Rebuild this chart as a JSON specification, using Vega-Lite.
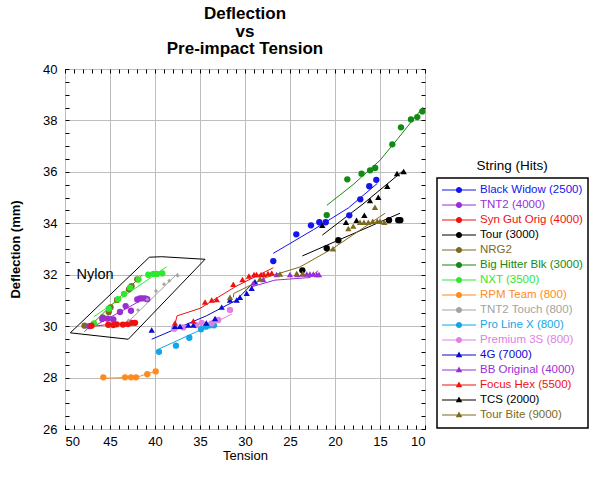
{
  "$schema": "https://vega.github.io/schema/vega-lite/v6.json",
  "width": 360,
  "height": 360,
  "autosize": "none",
  "padding": {"left": 65, "top": 69, "right": 175, "bottom": 66},
  "config": {
    "font": "Liberation Sans",
    "view": {"stroke": "black", "strokeWidth": 1},
    "axis": {"gridColor": "#bdbdbd", "gridOpacity": 1, "gridWidth": 1, "labelColor": "black", "titleColor": "black", "labelFont": "Liberation Sans", "titleFont": "Liberation Sans", "labelFontSize": 13, "titleFontSize": 13, "domain": false, "tickColor": "black"}
  },
  "title": {
    "text": ["Deflection", "vs", "Pre-impact Tension"],
    "font": "Liberation Sans", "fontSize": 17, "fontWeight": "bold", "color": "black",
    "lineHeight": 17.5, "anchor": "middle", "frame": "group", "offset": 5
  },
  "datasets": {
    "pts": [
      {"s": "Big Hitter Blk (3000)", "t": 20.92, "d": 34.32},
      {"s": "Big Hitter Blk (3000)", "t": 18.63, "d": 35.71},
      {"s": "Big Hitter Blk (3000)", "t": 17.05, "d": 35.93},
      {"s": "Big Hitter Blk (3000)", "t": 16.1, "d": 36.06},
      {"s": "Big Hitter Blk (3000)", "t": 15.54, "d": 36.15},
      {"s": "Big Hitter Blk (3000)", "t": 13.63, "d": 37.07},
      {"s": "Big Hitter Blk (3000)", "t": 12.67, "d": 37.73},
      {"s": "Big Hitter Blk (3000)", "t": 11.56, "d": 38.04},
      {"s": "Big Hitter Blk (3000)", "t": 10.86, "d": 38.13},
      {"s": "Big Hitter Blk (3000)", "t": 10.3, "d": 38.35},
      {"s": "Black Widow (2500)", "t": 26.86, "d": 32.53},
      {"s": "Black Widow (2500)", "t": 24.3, "d": 33.57},
      {"s": "Black Widow (2500)", "t": 22.67, "d": 33.92},
      {"s": "Black Widow (2500)", "t": 21.74, "d": 34.04},
      {"s": "Black Widow (2500)", "t": 21.03, "d": 34.04},
      {"s": "Black Widow (2500)", "t": 18.41, "d": 34.31},
      {"s": "Black Widow (2500)", "t": 17.19, "d": 34.93},
      {"s": "Black Widow (2500)", "t": 16.19, "d": 35.44},
      {"s": "Black Widow (2500)", "t": 15.41, "d": 35.69},
      {"s": "Tour (3000)", "t": 23.63, "d": 32.17},
      {"s": "Tour (3000)", "t": 20.92, "d": 33.03},
      {"s": "Tour (3000)", "t": 19.63, "d": 33.34},
      {"s": "Tour (3000)", "t": 14.0, "d": 34.12},
      {"s": "Tour (3000)", "t": 12.97, "d": 34.12},
      {"s": "Tour (3000)", "t": 12.74, "d": 34.12},
      {"s": "TCS (2000)", "t": 21.41, "d": 33.92},
      {"s": "TCS (2000)", "t": 18.78, "d": 34.04},
      {"s": "TCS (2000)", "t": 17.61, "d": 34.12},
      {"s": "TCS (2000)", "t": 16.74, "d": 34.31},
      {"s": "TCS (2000)", "t": 16.11, "d": 34.89},
      {"s": "TCS (2000)", "t": 15.19, "d": 35.01},
      {"s": "TCS (2000)", "t": 14.19, "d": 35.44},
      {"s": "TCS (2000)", "t": 13.11, "d": 35.94},
      {"s": "TCS (2000)", "t": 12.37, "d": 36.01},
      {"s": "NRG2", "t": 47.83, "d": 30.02},
      {"s": "NRG2", "t": 45.81, "d": 30.34},
      {"s": "NRG2", "t": 45.14, "d": 30.55},
      {"s": "NRG2", "t": 44.94, "d": 30.73},
      {"s": "NRG2", "t": 44.22, "d": 31.02},
      {"s": "NRG2", "t": 42.89, "d": 31.43},
      {"s": "NRG2", "t": 42.61, "d": 31.55},
      {"s": "NRG2", "t": 41.97, "d": 31.82},
      {"s": "NXT (3500)", "t": 46.78, "d": 30.11},
      {"s": "NXT (3500)", "t": 45.14, "d": 30.68},
      {"s": "NXT (3500)", "t": 44.11, "d": 31.05},
      {"s": "NXT (3500)", "t": 43.44, "d": 31.25},
      {"s": "NXT (3500)", "t": 42.78, "d": 31.5},
      {"s": "NXT (3500)", "t": 41.83, "d": 31.81},
      {"s": "NXT (3500)", "t": 40.74, "d": 32.0},
      {"s": "NXT (3500)", "t": 40.17, "d": 32.03},
      {"s": "NXT (3500)", "t": 39.78, "d": 32.03},
      {"s": "NXT (3500)", "t": 39.19, "d": 32.05},
      {"s": "TNT2 (4000)", "t": 47.3, "d": 30.0},
      {"s": "TNT2 (4000)", "t": 45.86, "d": 30.28},
      {"s": "TNT2 (4000)", "t": 45.26, "d": 30.29},
      {"s": "TNT2 (4000)", "t": 44.63, "d": 30.26},
      {"s": "TNT2 (4000)", "t": 43.89, "d": 30.55},
      {"s": "TNT2 (4000)", "t": 43.26, "d": 30.78},
      {"s": "TNT2 (4000)", "t": 42.67, "d": 30.6},
      {"s": "TNT2 (4000)", "t": 41.97, "d": 31.04},
      {"s": "TNT2 (4000)", "t": 41.67, "d": 31.08},
      {"s": "TNT2 (4000)", "t": 41.41, "d": 31.08},
      {"s": "TNT2 (4000)", "t": 41.11, "d": 31.08},
      {"s": "TNT2 (4000)", "t": 40.86, "d": 31.05},
      {"s": "Syn Gut Orig (4000)", "t": 47.06, "d": 30.02},
      {"s": "Syn Gut Orig (4000)", "t": 45.19, "d": 30.05},
      {"s": "Syn Gut Orig (4000)", "t": 44.63, "d": 30.04},
      {"s": "Syn Gut Orig (4000)", "t": 44.26, "d": 30.07},
      {"s": "Syn Gut Orig (4000)", "t": 43.56, "d": 30.06},
      {"s": "Syn Gut Orig (4000)", "t": 43.0, "d": 30.08},
      {"s": "Syn Gut Orig (4000)", "t": 42.59, "d": 30.13},
      {"s": "Syn Gut Orig (4000)", "t": 42.22, "d": 30.13},
      {"s": "TNT2 Touch (800)", "t": 42.94, "d": 30.22},
      {"s": "TNT2 Touch (800)", "t": 41.89, "d": 30.63},
      {"s": "TNT2 Touch (800)", "t": 40.86, "d": 31.04},
      {"s": "TNT2 Touch (800)", "t": 39.89, "d": 31.37},
      {"s": "TNT2 Touch (800)", "t": 39.0, "d": 31.63},
      {"s": "TNT2 Touch (800)", "t": 38.41, "d": 31.77},
      {"s": "TNT2 Touch (800)", "t": 37.48, "d": 31.96},
      {"s": "RPM Team (800)", "t": 45.74, "d": 28.01},
      {"s": "RPM Team (800)", "t": 43.33, "d": 28.01},
      {"s": "RPM Team (800)", "t": 42.67, "d": 28.01},
      {"s": "RPM Team (800)", "t": 42.11, "d": 28.01},
      {"s": "RPM Team (800)", "t": 40.86, "d": 28.13},
      {"s": "RPM Team (800)", "t": 39.92, "d": 28.24},
      {"s": "Pro Line X (800)", "t": 39.56, "d": 29.0},
      {"s": "Pro Line X (800)", "t": 37.67, "d": 29.24},
      {"s": "Pro Line X (800)", "t": 36.19, "d": 29.55},
      {"s": "Pro Line X (800)", "t": 34.89, "d": 29.88},
      {"s": "Pro Line X (800)", "t": 34.33, "d": 29.98},
      {"s": "Pro Line X (800)", "t": 33.89, "d": 30.03},
      {"s": "Pro Line X (800)", "t": 33.44, "d": 30.03},
      {"s": "Premium 3S (800)", "t": 37.86, "d": 29.9},
      {"s": "Premium 3S (800)", "t": 36.86, "d": 29.95},
      {"s": "Premium 3S (800)", "t": 35.44, "d": 30.04},
      {"s": "Premium 3S (800)", "t": 34.81, "d": 30.13},
      {"s": "Premium 3S (800)", "t": 33.7, "d": 30.11},
      {"s": "Premium 3S (800)", "t": 32.97, "d": 30.24},
      {"s": "Premium 3S (800)", "t": 31.67, "d": 30.63},
      {"s": "4G (7000)", "t": 40.37, "d": 29.85},
      {"s": "4G (7000)", "t": 37.78, "d": 30.0},
      {"s": "4G (7000)", "t": 37.22, "d": 30.0},
      {"s": "4G (7000)", "t": 36.3, "d": 30.04},
      {"s": "4G (7000)", "t": 35.74, "d": 30.04},
      {"s": "4G (7000)", "t": 34.3, "d": 30.12},
      {"s": "4G (7000)", "t": 33.33, "d": 30.3},
      {"s": "4G (7000)", "t": 32.59, "d": 30.74},
      {"s": "4G (7000)", "t": 31.67, "d": 31.02},
      {"s": "4G (7000)", "t": 30.92, "d": 31.02},
      {"s": "4G (7000)", "t": 30.56, "d": 31.12},
      {"s": "4G (7000)", "t": 29.81, "d": 31.28},
      {"s": "4G (7000)", "t": 29.26, "d": 31.47},
      {"s": "4G (7000)", "t": 28.89, "d": 31.73},
      {"s": "Focus Hex (5500)", "t": 37.78, "d": 30.12},
      {"s": "Focus Hex (5500)", "t": 35.74, "d": 30.2},
      {"s": "Focus Hex (5500)", "t": 34.44, "d": 30.94},
      {"s": "Focus Hex (5500)", "t": 33.7, "d": 31.02},
      {"s": "Focus Hex (5500)", "t": 33.14, "d": 31.04},
      {"s": "Focus Hex (5500)", "t": 31.3, "d": 31.63},
      {"s": "Focus Hex (5500)", "t": 30.28, "d": 31.81},
      {"s": "Focus Hex (5500)", "t": 29.56, "d": 31.95},
      {"s": "Focus Hex (5500)", "t": 29.0, "d": 32.01},
      {"s": "Focus Hex (5500)", "t": 28.72, "d": 32.01},
      {"s": "Focus Hex (5500)", "t": 28.22, "d": 32.01},
      {"s": "Focus Hex (5500)", "t": 27.89, "d": 32.01},
      {"s": "Focus Hex (5500)", "t": 27.44, "d": 32.05},
      {"s": "Focus Hex (5500)", "t": 27.03, "d": 32.07},
      {"s": "BB Original (4000)", "t": 29.08, "d": 31.68},
      {"s": "BB Original (4000)", "t": 27.97, "d": 31.81},
      {"s": "BB Original (4000)", "t": 26.48, "d": 32.01},
      {"s": "BB Original (4000)", "t": 25.0, "d": 32.01},
      {"s": "BB Original (4000)", "t": 24.19, "d": 32.01},
      {"s": "BB Original (4000)", "t": 23.59, "d": 32.03},
      {"s": "BB Original (4000)", "t": 23.14, "d": 32.03},
      {"s": "BB Original (4000)", "t": 22.78, "d": 32.03},
      {"s": "BB Original (4000)", "t": 22.41, "d": 32.03},
      {"s": "BB Original (4000)", "t": 22.03, "d": 32.01},
      {"s": "BB Original (4000)", "t": 21.78, "d": 32.01},
      {"s": "Tour Bite (9000)", "t": 31.67, "d": 31.12},
      {"s": "Tour Bite (9000)", "t": 28.33, "d": 31.83},
      {"s": "Tour Bite (9000)", "t": 26.11, "d": 32.03},
      {"s": "Tour Bite (9000)", "t": 24.26, "d": 32.05},
      {"s": "Tour Bite (9000)", "t": 23.59, "d": 32.05},
      {"s": "Tour Bite (9000)", "t": 20.22, "d": 33.01},
      {"s": "Tour Bite (9000)", "t": 18.52, "d": 33.8},
      {"s": "Tour Bite (9000)", "t": 17.97, "d": 33.89},
      {"s": "Tour Bite (9000)", "t": 17.22, "d": 34.04},
      {"s": "Tour Bite (9000)", "t": 16.78, "d": 34.04},
      {"s": "Tour Bite (9000)", "t": 16.3, "d": 34.04},
      {"s": "Tour Bite (9000)", "t": 15.81, "d": 34.08},
      {"s": "Tour Bite (9000)", "t": 15.56, "d": 34.62},
      {"s": "Tour Bite (9000)", "t": 15.3, "d": 34.08},
      {"s": "Tour Bite (9000)", "t": 15.0, "d": 34.08},
      {"s": "Tour Bite (9000)", "t": 14.52, "d": 34.04}
    ],
    "fits": [
      {"s": "Big Hitter Blk (3000)", "i": 1, "t": 20.9, "d": 34.7},
      {"s": "Big Hitter Blk (3000)", "i": 2, "t": 18.0, "d": 35.5},
      {"s": "Big Hitter Blk (3000)", "i": 3, "t": 15.0, "d": 36.45},
      {"s": "Big Hitter Blk (3000)", "i": 4, "t": 13.0, "d": 37.3},
      {"s": "Big Hitter Blk (3000)", "i": 5, "t": 10.2, "d": 38.52},
      {"s": "Black Widow (2500)", "i": 1, "t": 26.86, "d": 32.83},
      {"s": "Black Widow (2500)", "i": 2, "t": 22.4, "d": 33.75},
      {"s": "Black Widow (2500)", "i": 3, "t": 18.5, "d": 34.6},
      {"s": "Black Widow (2500)", "i": 4, "t": 15.3, "d": 35.55},
      {"s": "Tour (3000)", "i": 1, "t": 23.63, "d": 32.73},
      {"s": "Tour (3000)", "i": 2, "t": 12.78, "d": 34.39},
      {"s": "TCS (2000)", "i": 1, "t": 21.41, "d": 33.54},
      {"s": "TCS (2000)", "i": 2, "t": 17.0, "d": 34.72},
      {"s": "TCS (2000)", "i": 3, "t": 12.33, "d": 36.07},
      {"s": "NRG2", "i": 1, "t": 47.86, "d": 29.78},
      {"s": "NRG2", "i": 2, "t": 41.41, "d": 31.99},
      {"s": "NXT (3500)", "i": 1, "t": 46.78, "d": 30.37},
      {"s": "NXT (3500)", "i": 2, "t": 38.7, "d": 32.31},
      {"s": "TNT2 (4000)", "i": 1, "t": 47.04, "d": 29.95},
      {"s": "TNT2 (4000)", "i": 2, "t": 40.92, "d": 31.12},
      {"s": "Syn Gut Orig (4000)", "i": 1, "t": 47.1, "d": 29.99},
      {"s": "Syn Gut Orig (4000)", "i": 2, "t": 42.2, "d": 30.17},
      {"s": "TNT2 Touch (800)", "i": 1, "t": 43.0, "d": 30.16},
      {"s": "TNT2 Touch (800)", "i": 2, "t": 37.44, "d": 32.07},
      {"s": "RPM Team (800)", "i": 1, "t": 45.74, "d": 27.97},
      {"s": "RPM Team (800)", "i": 2, "t": 42.0, "d": 28.02},
      {"s": "RPM Team (800)", "i": 3, "t": 39.92, "d": 28.24},
      {"s": "Pro Line X (800)", "i": 1, "t": 39.63, "d": 29.1},
      {"s": "Pro Line X (800)", "i": 2, "t": 33.52, "d": 30.08},
      {"s": "Premium 3S (800)", "i": 1, "t": 37.97, "d": 29.85},
      {"s": "Premium 3S (800)", "i": 2, "t": 33.0, "d": 30.2},
      {"s": "Premium 3S (800)", "i": 3, "t": 31.48, "d": 30.47},
      {"s": "4G (7000)", "i": 1, "t": 40.37, "d": 29.49},
      {"s": "4G (7000)", "i": 2, "t": 34.3, "d": 30.4},
      {"s": "4G (7000)", "i": 3, "t": 31.0, "d": 31.0},
      {"s": "4G (7000)", "i": 4, "t": 28.9, "d": 31.75},
      {"s": "BB Original (4000)", "i": 1, "t": 29.26, "d": 31.53},
      {"s": "BB Original (4000)", "i": 2, "t": 26.67, "d": 31.79},
      {"s": "BB Original (4000)", "i": 3, "t": 22.78, "d": 31.89},
      {"s": "BB Original (4000)", "i": 4, "t": 21.86, "d": 32.16},
      {"s": "Focus Hex (5500)", "i": 1, "t": 37.78, "d": 30.08},
      {"s": "Focus Hex (5500)", "i": 2, "t": 37.55, "d": 30.4},
      {"s": "Focus Hex (5500)", "i": 3, "t": 35.0, "d": 30.69},
      {"s": "Focus Hex (5500)", "i": 4, "t": 31.0, "d": 31.55},
      {"s": "Focus Hex (5500)", "i": 5, "t": 26.86, "d": 32.27},
      {"s": "Tour Bite (9000)", "i": 1, "t": 31.3, "d": 31.12},
      {"s": "Tour Bite (9000)", "i": 2, "t": 31.25, "d": 31.27},
      {"s": "Tour Bite (9000)", "i": 3, "t": 27.6, "d": 31.9},
      {"s": "Tour Bite (9000)", "i": 4, "t": 23.9, "d": 32.3},
      {"s": "Tour Bite (9000)", "i": 5, "t": 20.2, "d": 33.03},
      {"s": "Tour Bite (9000)", "i": 6, "t": 14.44, "d": 34.39}
    ],
    "box": [
      {"i": 1, "t": 49.41, "d": 29.74},
      {"i": 2, "t": 40.63, "d": 32.68},
      {"i": 3, "t": 39.26, "d": 32.7},
      {"i": 4, "t": 34.44, "d": 32.6},
      {"i": 5, "t": 42.97, "d": 29.49},
      {"i": 6, "t": 49.41, "d": 29.74}
    ],
    "lbl": [
      {"t": 46.67, "d": 31.99, "txt": "Nylon"}
    ]
  },
  "resolve": {"axis": {"x": "independent", "y": "independent"}},
  "layer": [
    {
      "data": {"name": "fits"},
      "mark": {"type": "line", "strokeWidth": 1},
      "encoding": {
        "x": {"field": "t", "type": "quantitative", "scale": {"domain": [50, 10], "nice": false, "zero": false},
          "axis": {"orient": "bottom", "values": [50, 45, 40, 35, 30, 25, 20, 15, 10], "grid": true, "ticks": false, "labelPadding": 6, "title": "Tension", "titlePadding": 1, "titleFontWeight": "normal"}},
        "y": {"field": "d", "type": "quantitative", "scale": {"domain": [26, 40], "nice": false, "zero": false},
          "axis": {"orient": "left", "values": [26, 28, 30, 32, 34, 36, 38, 40], "grid": true, "ticks": false, "labelPadding": 8, "title": "Deflection (mm)", "titlePadding": 20, "titleFontWeight": "bold"}},
        "color": {"field": "s", "type": "nominal",
          "scale": {
            "domain": ["Black Widow (2500)", "TNT2 (4000)", "Syn Gut Orig (4000)", "Tour (3000)", "NRG2", "Big Hitter Blk (3000)", "NXT (3500)", "RPM Team (800)", "TNT2 Touch (800)", "Pro Line X (800)", "Premium 3S (800)", "4G (7000)", "BB Original (4000)", "Focus Hex (5500)", "TCS (2000)", "Tour Bite (9000)"],
            "range": ["#1414f0", "#9a2ed6", "#f01010", "#000000", "#7d6a1c", "#138a13", "#2ee82e", "#ff8a1e", "#a3a3a3", "#12a6e6", "#e080e0", "#0a0ad0", "#9a2ed6", "#f01010", "#000000", "#7d6a1c"]
          },
          "legend": {
            "orient": "none", "legendX": 372, "legendY": 109,
            "title": "String (Hits)", "titleFont": "Liberation Sans", "titleFontSize": 13.5, "titleFontWeight": "normal", "titleColor": "black", "titleAnchor": "middle", "titlePadding": -14,
            "labelFont": "Liberation Sans", "labelFontSize": 11.5, "labelOffset": 4, "labelLimit": 300, "symbolSize": 1156, "clipHeight": 15, "padding": 5, "rowPadding": 0,
            "symbolType": {"expr": "indexof(['4G (7000)','BB Original (4000)','Focus Hex (5500)','TCS (2000)','Tour Bite (9000)'], datum.value) >= 0 ? 'M-1,-0.03H1V0.03H-1Z M0,-0.21L0.19,0.13L-0.19,0.13Z' : 'M-1,-0.03H1V0.03H-1Z M0.18,0A0.18,0.18,0,1,1,-0.18,0A0.18,0.18,0,1,1,0.18,0Z'"},
            "strokeColor": "black",
            "encode": {
              "legend": {"update": {"strokeWidth": {"value": 1.5}}},
              "symbols": {"update": {
                "fill": {"scale": "color", "field": "value"},
                "stroke": {"value": "transparent"},
                "strokeWidth": {"value": 0},
                "opacity": {"value": 1},
                "size": {"value": 1156}
              }},
              "labels": {"update": {"fill": {"scale": "color", "field": "value"}}},
              "title": {"update": {"dy": {"value": -24}}}
            }
          }
        },
        "order": {"field": "i", "type": "quantitative"},
        "detail": {"field": "s"}
      }
    },
    {
      "data": {"name": "pts"},
      "mark": {"type": "point", "filled": true, "opacity": 1},
      "encoding": {
        "x": {"field": "t", "type": "quantitative", "axis": {"orient": "bottom", "values": [10,11,12,13,14,15,16,17,18,19,20,21,22,23,24,25,26,27,28,29,30,31,32,33,34,35,36,37,38,39,40,41,42,43,44,45,46,47,48,49,50], "labels": false, "grid": false, "ticks": true, "tickSize": -4, "title": null}},
        "y": {"field": "d", "type": "quantitative", "axis": {"orient": "left", "values": [26,26.5,27,27.5,28,28.5,29,29.5,30,30.5,31,31.5,32,32.5,33,33.5,34,34.5,35,35.5,36,36.5,37,37.5,38,38.5,39,39.5,40], "labels": false, "grid": false, "ticks": true, "tickSize": -4, "title": null}},
        "color": {"field": "s", "type": "nominal"},
        "shape": {
          "condition": [
            {"test": "datum.s === 'TNT2 Touch (800)'", "value": "diamond"},
            {"test": "indexof(['4G (7000)','BB Original (4000)','Focus Hex (5500)','TCS (2000)','Tour Bite (9000)'], datum.s) >= 0", "value": "triangle-up"}
          ],
          "value": "circle"
        },
        "size": {"condition": {"test": "datum.s === 'TNT2 Touch (800)'", "value": 16}, "value": 40}
      }
    },
    {
      "data": {"name": "box"},
      "mark": {"type": "line", "color": "black", "strokeWidth": 1},
      "encoding": {
        "x": {"field": "t", "type": "quantitative", "axis": {"orient": "top", "values": [10,11,12,13,14,15,16,17,18,19,20,21,22,23,24,25,26,27,28,29,30,31,32,33,34,35,36,37,38,39,40,41,42,43,44,45,46,47,48,49,50], "labels": false, "grid": false, "ticks": true, "tickSize": -4, "title": null}},
        "y": {"field": "d", "type": "quantitative", "axis": {"orient": "right", "values": [26,26.5,27,27.5,28,28.5,29,29.5,30,30.5,31,31.5,32,32.5,33,33.5,34,34.5,35,35.5,36,36.5,37,37.5,38,38.5,39,39.5,40], "labels": false, "grid": false, "ticks": true, "tickSize": -4, "title": null}},
        "order": {"field": "i", "type": "quantitative"}
      }
    },
    {
      "data": {"name": "lbl"},
      "mark": {"type": "text", "font": "Liberation Sans", "fontSize": 14.5, "color": "black", "align": "center", "baseline": "middle"},
      "encoding": {
        "x": {"field": "t", "type": "quantitative", "axis": null},
        "y": {"field": "d", "type": "quantitative", "axis": null},
        "text": {"field": "txt"}
      }
    }
  ]
}
